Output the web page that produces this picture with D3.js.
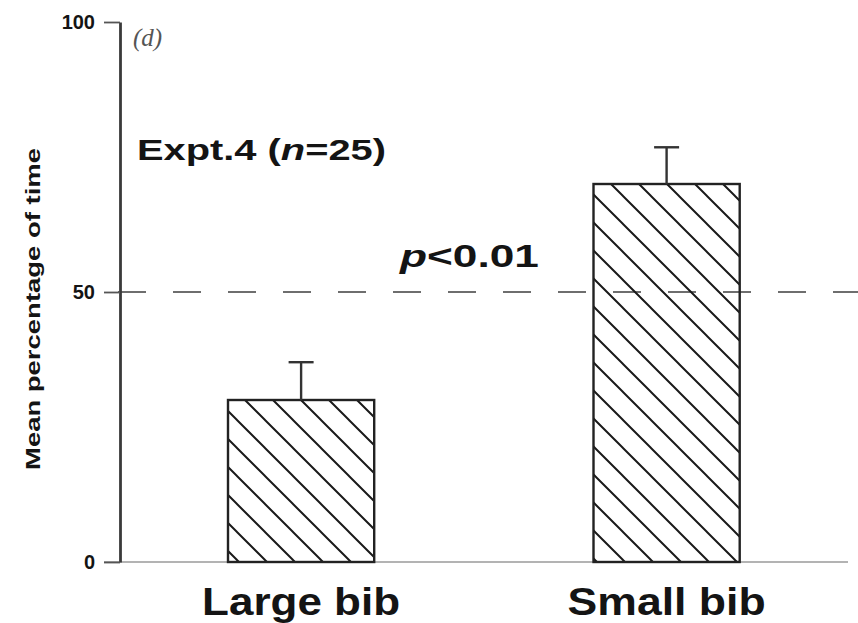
<!DOCTYPE html>
<html>
<head>
<meta charset="utf-8">
<script src="https://cdn.jsdelivr.net/npm/d3@7"></script>
<style>
  html, body { margin: 0; padding: 0; background: #fff; }
  svg { display: block; }
</style>
</head>
<body>
<svg id="chart" width="858" height="623"></svg>
<script>
// ---- data ----
const categories = ["Large bib", "Small bib"];
const meanValues = [30, 70];
const errorValues = [7, 6.8];
const yTicks = [0, 50, 100];
const referenceValue = 50;
const panelLabel = "(d)";
const pText = "<0.01";

const svg = d3.select("#chart");
const W = 858, H = 623;

const y = d3.scaleLinear().domain([0, 100]).range([562, 22]);
const x = d3.scaleBand().domain(categories).range([118.35, 849.35])
  .paddingInner(0.6).paddingOuter(0.3);

const ink = "#141414";

// hatch patterns
const defs = svg.append("defs");
const offsets = [13, 7];
categories.forEach((c, i) => {
  const p = defs.append("pattern")
    .attr("id", "hatch" + i)
    .attr("patternUnits", "userSpaceOnUse")
    .attr("x", offsets[i]).attr("y", 0)
    .attr("width", 28).attr("height", 28);
  p.append("path")
    .attr("d", "M-2,-2L30,30M26,-2L30,2M-2,26L2,30")
    .attr("stroke", "#1a1a1a").attr("stroke-width", 2).attr("fill", "none");
});

// baseline
svg.append("line")
  .attr("x1", 104).attr("x2", 848)
  .attr("y1", y(0)).attr("y2", y(0))
  .attr("stroke", "#9a9a9a").attr("stroke-width", 1.6);

// reference dashed line
svg.append("line")
  .attr("x1", 118).attr("x2", W)
  .attr("y1", y(referenceValue)).attr("y2", y(referenceValue))
  .attr("stroke", "#6e6e6e").attr("stroke-width", 2)
  .attr("stroke-dasharray", "28,27");

// bars
svg.selectAll("rect.bar").data(categories).join("rect")
  .attr("class", "bar")
  .attr("x", d => x(d))
  .attr("width", x.bandwidth())
  .attr("y", (d, i) => y(meanValues[i]))
  .attr("height", (d, i) => y(0) - y(meanValues[i]))
  .attr("fill", (d, i) => "url(#hatch" + i + ")")
  .attr("stroke", "#222").attr("stroke-width", 2.4);

// error bars
const cap = 25;
categories.forEach((c, i) => {
  const cx = x(c) + x.bandwidth() / 2;
  const top = y(meanValues[i] + errorValues[i]);
  svg.append("line")
    .attr("x1", cx).attr("x2", cx)
    .attr("y1", y(meanValues[i])).attr("y2", top)
    .attr("stroke", "#333").attr("stroke-width", 2.4);
  svg.append("line")
    .attr("x1", cx - cap / 2).attr("x2", cx + cap / 2)
    .attr("y1", top).attr("y2", top)
    .attr("stroke", "#333").attr("stroke-width", 2.4);
});

// y axis
const yAxis = d3.axisLeft(y).tickValues(yTicks).tickSize(16).tickSizeOuter(0).tickPadding(9);
const gy = svg.append("g").attr("transform", "translate(120,0)").call(yAxis);
gy.attr("font-size", 20).attr("font-family", "'Liberation Sans', Arial, sans-serif");
gy.select(".domain").attr("stroke", "#3a3a3a").attr("stroke-width", 2.8);
gy.selectAll(".tick line").attr("stroke", "#555").attr("stroke-width", 1.8);
gy.selectAll(".tick text")
  .attr("font-weight", "bold").attr("fill", ink);

// x category labels
svg.selectAll("text.cat").data(categories).join("text")
  .attr("class", "cat")
  .attr("x", d => x(d) + x.bandwidth() / 2 - 99)
  .attr("y", 615)
  .attr("textLength", 198)
  .attr("lengthAdjust", "spacingAndGlyphs")
  .attr("font-family", "'Liberation Sans', Arial, sans-serif")
  .attr("font-weight", "bold").attr("font-size", 38).attr("fill", ink)
  .text(d => d);

// panel label
svg.append("text")
  .attr("x", 133).attr("y", 46)
  .attr("font-family", "'Liberation Serif', 'Times New Roman', serif")
  .attr("font-style", "italic").attr("font-size", 25).attr("fill", "#555")
  .text(panelLabel);

// experiment label
const expt = svg.append("text")
  .attr("x", 137).attr("y", 160)
  .attr("textLength", 249)
  .attr("lengthAdjust", "spacingAndGlyphs")
  .attr("font-family", "'Liberation Sans', Arial, sans-serif")
  .attr("font-weight", "bold").attr("font-size", 30).attr("fill", ink);
expt.append("tspan").text("Expt.4 (");
expt.append("tspan").attr("font-style", "italic").text("n");
expt.append("tspan").text("=25)");

// p label
const pl = svg.append("text")
  .attr("x", 400).attr("y", 267)
  .attr("textLength", 139)
  .attr("lengthAdjust", "spacingAndGlyphs")
  .attr("font-family", "'Liberation Sans', Arial, sans-serif")
  .attr("font-weight", "bold").attr("font-size", 31).attr("fill", ink);
pl.append("tspan").attr("font-style", "italic").text("p");
pl.append("tspan").text(pText);

// y-axis title
svg.append("text")
  .attr("transform", "translate(40,309) rotate(-90)")
  .attr("text-anchor", "middle")
  .attr("textLength", 322)
  .attr("lengthAdjust", "spacingAndGlyphs")
  .attr("font-family", "'Liberation Sans', Arial, sans-serif")
  .attr("font-weight", "bold").attr("font-size", 21).attr("fill", ink)
  .text("Mean percentage of time");
</script>
</body>
</html>
